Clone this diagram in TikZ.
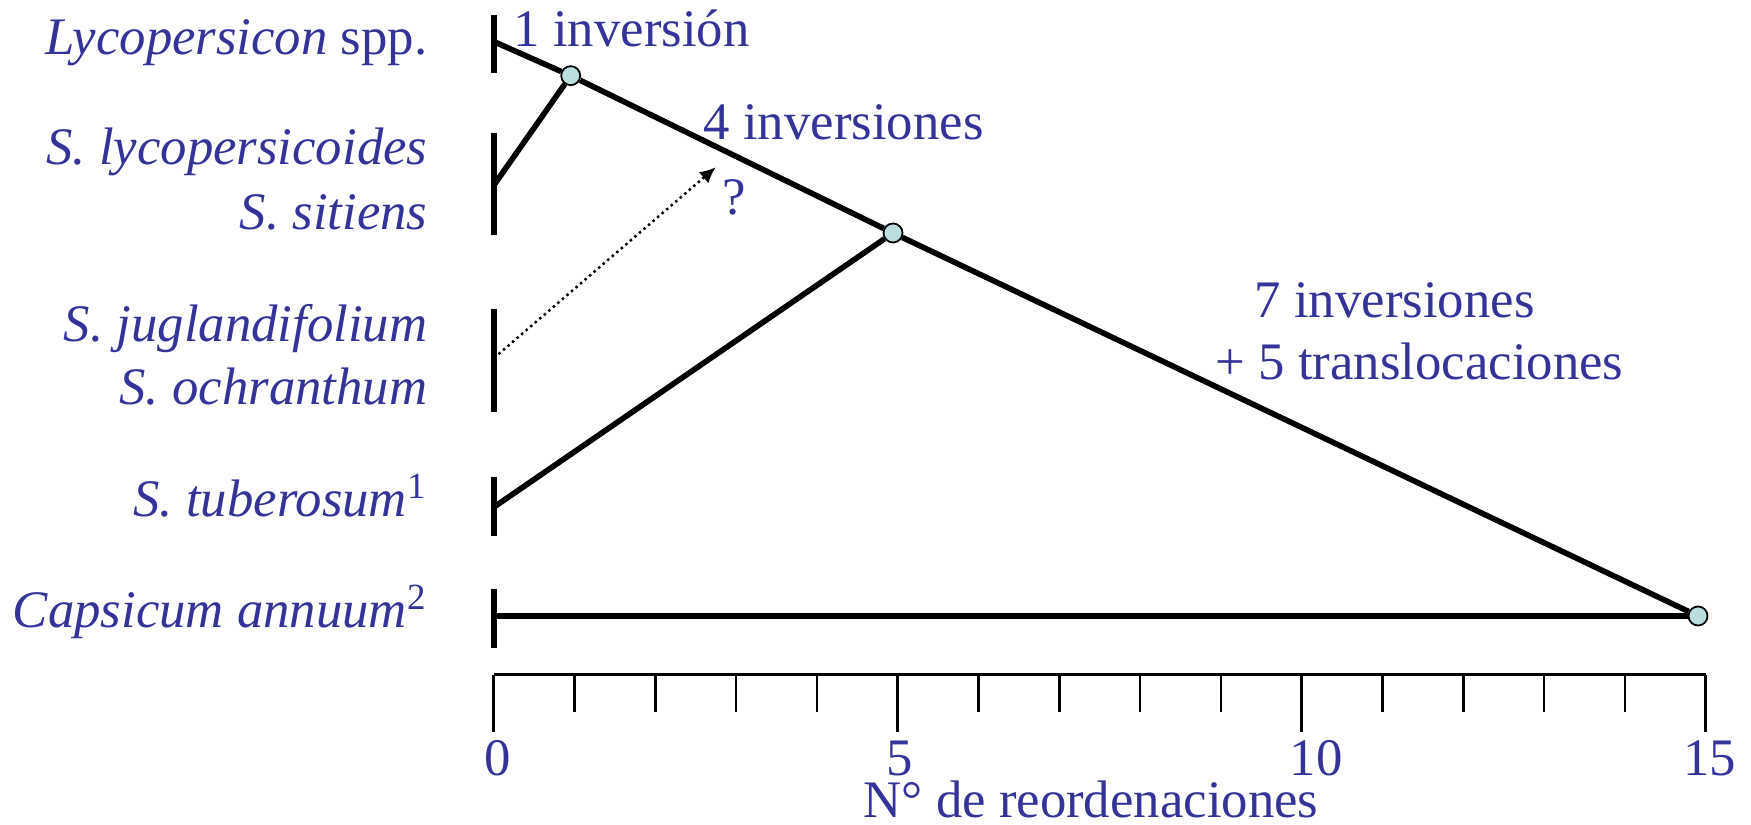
\documentclass[tikz,border=0pt]{standalone}
\usepackage{fontspec}
\setmainfont{Liberation Serif}
\usepackage{xcolor}
\usetikzlibrary{positioning,arrows.meta}
\definecolor{taxblue}{HTML}{333399}
\definecolor{hubcyan}{HTML}{BBDEDF}

\begin{document}
\begin{tikzpicture}[
  x=0.01cm, y=-0.01cm,
  font=\fontsize{15}{18}\selectfont,
  taxon/.style={anchor=base east, inner sep=0pt, text=taxblue},
  lbl/.style={anchor=base west, inner sep=0pt, text=taxblue},
  num/.style={anchor=base, inner sep=0pt, text=taxblue},
  hub/.style={circle, draw, fill=hubcyan, line width=0.5pt, minimum size=0.19cm, inner sep=0pt},
  bar/.style={line width=1.7pt},
  branch/.style={line width=1.6pt},
  tick/.style={line width=0.75pt},
  arr/.style={-{Latex[length=4.5pt,width=4.2pt]}, densely dotted, line width=0.7pt}
]
\useasboundingbox (0,0) rectangle (1751,825);

% --- Taxa ---
\node[taxon] (t-lyc) at (428,55) {\textit{Lycopersicon} spp.};
\node[taxon] (t-lys) at (428,165) {\textit{S. lycopersicoides}};
\node[taxon] (t-sit) at (428,230) {\textit{S. sitiens}};
\node[taxon] (t-jug) at (428,342) {\textit{S. juglandifolium}};
\node[taxon] (t-och) at (428,405) {\textit{S. ochranthum}};
\node[taxon] (t-tub) at (428,517) {\textit{S. tuberosum}\textsuperscript{1}};
\node[taxon] (t-cap) at (428,628) {\textit{Capsicum annuum}\textsuperscript{2}};

% --- Terminal bars ---
\draw[bar] (494,15) -- (494,73);
\draw[bar] (494,133) -- (494,235);
\draw[bar] (494,309) -- (494,412);
\draw[bar] (494,477) -- (494,536);
\draw[bar] (494,589) -- (494,648);

\coordinate (lyc) at (494,41.7);
\coordinate (lys) at (494,185);
\coordinate (jug) at (494,358);
\coordinate (tub) at (494,507);
\coordinate (cap) at (494,616);
\coordinate (q) at (715.7,167.3);

% --- Branch points ---
\node[hub] (n1) at (570.7,75.7) {};
\node[hub] (n2) at (893,233) {};
\node[hub] (n3) at (1698,616) {};

\draw[branch] (lyc) -- (n1);
\draw[branch] (lys) -- (n1);
\draw[branch] (n1) -- (n2);
\draw[branch] (tub) -- (n2);
\draw[branch] (n2) -- (n3);
\draw[branch] (cap) -- (n3);
\draw[arr] (jug) -- (q);

% --- Rearrangements ---
\node[lbl] (r1) at (513,46.7) {1 inversión};
\node[lbl] (r4) at (703,140) {4 inversiones};
\node[lbl] (rq) at (722,215) {?};
\node[lbl] (r7) at (1254,318) {7 inversiones};
\node[lbl] (r5) at (1215,380) {+ 5 translocaciones};

% --- Scale ---
\draw[tick] (493.7,674.7) -- (1705.7,674.7);
\foreach \i in {0,...,15} {
  \pgfmathsetmacro{\len}{ifthenelse(mod(\i,5)==0,57,37.6)}
  \draw[tick] ({493.7+80.8*\i},674.7) -- ++(0,\len);
}
\node[num] (s0) at (497.5,776) {0};
\node[num] (s5) at (899.5,776) {5};
\node[num] (s10) at (1316,776) {10};
\node[num] (s15) at (1709.5,776) {15};
\node[lbl] (xlab) at (863,818) {N° de reordenaciones};

\end{tikzpicture}
\end{document}
